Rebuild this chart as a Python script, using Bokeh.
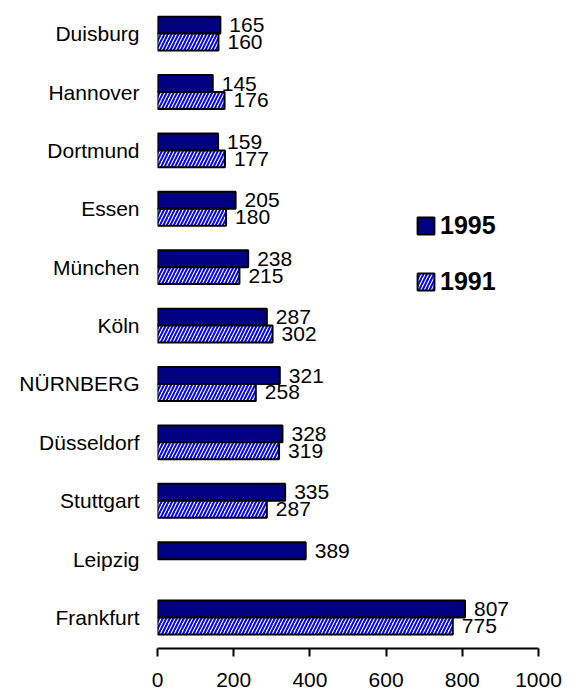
from bokeh.plotting import figure
from bokeh.models import ColumnDataSource, Range1d, FixedTicker, Legend, LegendItem
from bokeh.transform import dodge
from bokeh.core.properties import value
from bokeh.embed import file_html
from bokeh.resources import INLINE

cities = ["Duisburg", "Hannover", "Dortmund", "Essen", "München", "Köln",
          "NÜRNBERG", "Düsseldorf", "Stuttgart", "Leipzig", "Frankfurt"]
values_1995 = [165, 145, 159, 205, 238, 287, 321, 328, 335, 389, 807]
values_1991 = [160, 176, 177, 180, 215, 302, 258, 319, 287, None, 775]
x_ticks = [0, 200, 400, 600, 800, 1000]

FONT = "Liberation Sans"
FS = "21px"
n = len(cities)
ypos = [n - 1 - i for i in range(n)]

src95 = ColumnDataSource(dict(y=ypos, v=values_1995, lab=[str(v) for v in values_1995]))
idx91 = [i for i, v in enumerate(values_1991) if v is not None]
src91 = ColumnDataSource(dict(y=[ypos[i] for i in idx91],
                              v=[values_1991[i] for i in idx91],
                              lab=[str(values_1991[i]) for i in idx91]))

p = figure(width=563, height=689, x_range=Range1d(0, 1000), y_range=Range1d(-0.53, 10.43),
           output_backend="svg", toolbar_location=None,
           min_border_left=157, min_border_right=25, min_border_top=8, min_border_bottom=0)
p.outline_line_color = None
p.grid.visible = False
p.background_fill_color = "white"
p.border_fill_color = "white"

off = 0.145
bh = 0.29
r95 = p.hbar(y=dodge('y', off, range=p.y_range), left=0, right='v', height=bh, source=src95,
             fill_color="#000080", line_color="black", line_width=2)
r91 = p.hbar(y=dodge('y', -off, range=p.y_range), left=0, right='v', height=bh, source=src91,
             fill_color="white", hatch_pattern="/", hatch_color="#0000FF", hatch_scale=7,
             hatch_weight=2, line_color="black", line_width=2)

p.text(x='v', y=dodge('y', off, range=p.y_range), text='lab', source=src95, x_offset=9,
       text_baseline="middle", text_align="left", text_font=value(FONT),
       text_font_size=FS, text_color="black")
p.text(x='v', y=dodge('y', -off, range=p.y_range), text='lab', source=src91, x_offset=9,
       text_baseline="middle", text_align="left", text_font=value(FONT),
       text_font_size=FS, text_color="black")

xa = p.xaxis[0]
xa.ticker = FixedTicker(ticks=x_ticks)
xa.minor_tick_line_color = None
xa.axis_line_width = 2
xa.axis_line_color = "black"
xa.major_tick_line_width = 2
xa.major_tick_line_color = "black"
xa.major_tick_out = 8
xa.major_tick_in = 0
xa.major_label_standoff = 16
xa.major_label_text_font = FONT
xa.major_label_text_font_size = FS
xa.major_label_text_color = "black"

ya = p.yaxis[0]
ya.ticker = FixedTicker(ticks=ypos)
ya.major_label_overrides = {y: c for y, c in zip(ypos, cities)}
ya.axis_line_color = None
ya.major_tick_line_color = None
ya.minor_tick_line_color = None
ya.major_tick_out = 0
ya.major_tick_in = 0
ya.major_label_standoff = 18
ya.major_label_text_font = FONT
ya.major_label_text_font_size = FS
ya.major_label_text_color = "black"

common = dict(padding=0, margin=0, glyph_width=21, glyph_height=21, label_height=21,
              label_standoff=4, border_line_color=None, background_fill_alpha=0,
              label_text_font=FONT, label_text_font_size="25px",
              label_text_font_style="bold", label_text_color="black",
              label_text_baseline="middle")
leg1 = Legend(items=[LegendItem(label="1995", renderers=[r95])], location=(258, 408), **common)
leg2 = Legend(items=[LegendItem(label="1991", renderers=[r91])], location=(258, 352), **common)
p.add_layout(leg1)
p.add_layout(leg2)

open("out.html", "w").write(file_html(p, INLINE))
